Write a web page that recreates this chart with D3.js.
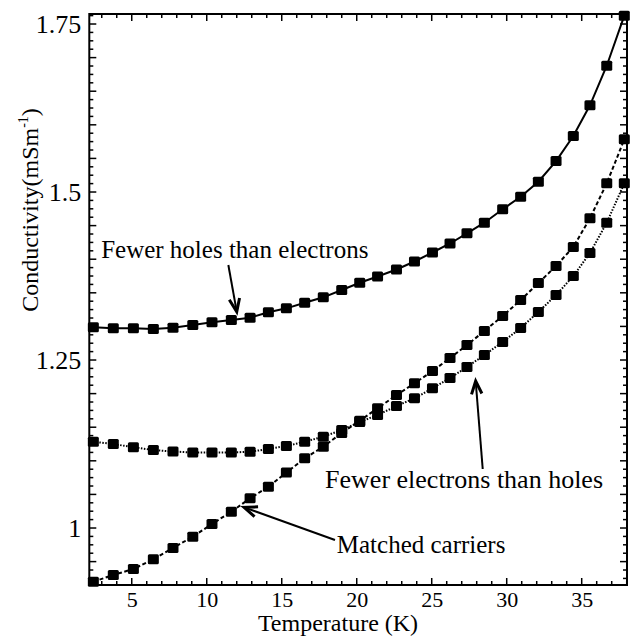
<!DOCTYPE html>
<html>
<head>
<meta charset="utf-8">
<script src="https://cdn.jsdelivr.net/npm/d3@7"></script>
<style>
html,body{margin:0;padding:0;background:#fff;}
svg{display:block;}
text{font-family:"Liberation Serif","Times New Roman",serif;fill:#000;}
</style>
</head>
<body>
<svg id="chart" width="640" height="638"></svg>
<script>
// ---- data ----
const temperature = [2.44, 3.77, 5.11, 6.44, 7.75, 9.07, 10.35, 11.64, 12.89, 14.11, 15.31, 16.53, 17.77, 19.0, 20.2, 21.39, 22.65, 23.85, 25.05, 26.22, 27.35, 28.51, 29.73, 30.93, 32.11, 33.29, 34.44, 35.55, 36.67, 37.84];
const fewerHoles = [1.2987, 1.2972, 1.2972, 1.2961, 1.2981, 1.3021, 1.3061, 1.3095, 1.3129, 1.3210, 1.3269, 1.3353, 1.3433, 1.3542, 1.3650, 1.3743, 1.3847, 1.3966, 1.4100, 1.4234, 1.4385, 1.4543, 1.4743, 1.4930, 1.5153, 1.5461, 1.5833, 1.6290, 1.6879, 1.7624];
const fewerElectrons = [1.1284, 1.1250, 1.1201, 1.1161, 1.1138, 1.1124, 1.1124, 1.1124, 1.1135, 1.1176, 1.1220, 1.1284, 1.1359, 1.1458, 1.1577, 1.1682, 1.1815, 1.1930, 1.2079, 1.2232, 1.2396, 1.2574, 1.2768, 1.2976, 1.3214, 1.3467, 1.3750, 1.4092, 1.4543, 1.5129];
const matchedCarriers = [0.9201, 0.9301, 0.9390, 0.9534, 0.9702, 0.9871, 1.0060, 1.0243, 1.0442, 1.0615, 1.0826, 1.1037, 1.1210, 1.1414, 1.1597, 1.1781, 1.1979, 1.2153, 1.2336, 1.2530, 1.2723, 1.2932, 1.3155, 1.3393, 1.3646, 1.3899, 1.4182, 1.4609, 1.5129, 1.5784];
const xTickValues = [5, 10, 15, 20, 25, 30, 35];
const yTickValues = [1, 1.25, 1.5, 1.75];
const yTickLabels = ["1", "1.25", "1.5", "1.75"];
const annotationTexts = ["Fewer holes than electrons", "Fewer electrons than holes", "Matched carriers"];
const xTitle = "Temperature (K)";

// ---- layout ----
const W = 640, H = 638;
const L = 89.3, R = 627, T = 14, B = 585;
const svg = d3.select("#chart");

const x = d3.scaleLinear().domain([2.17, 38.02]).range([L, R]);
const y = d3.scaleLinear().domain([0.9152, 1.7649]).range([B, T]);

// ---- ticks (inward) on all four sides ----
const g = svg.append("g");
const xMinor = d3.range(3, 39, 1);
const yMinor = d3.range(0, 72).map(i => +(0.925 + i * 0.0125).toFixed(4)).filter(v => v <= 1.765);
function yLen(v) { const r = Math.round(v * 10000) % 500; return r === 0 ? 7 : 4; }
function xLen(v) { return v % 5 === 0 ? 7 : 4; }

xMinor.forEach(v => {
  g.append("line").attr("x1", x(v)).attr("x2", x(v)).attr("y1", B).attr("y2", B - xLen(v)).attr("stroke", "#000").attr("stroke-width", 1.5);
  g.append("line").attr("x1", x(v)).attr("x2", x(v)).attr("y1", T).attr("y2", T + xLen(v)).attr("stroke", "#000").attr("stroke-width", 1.5);
});
yMinor.forEach(v => {
  g.append("line").attr("x1", L).attr("x2", L + yLen(v)).attr("y1", y(v)).attr("y2", y(v)).attr("stroke", "#000").attr("stroke-width", 1.5);
  g.append("line").attr("x1", R).attr("x2", R - yLen(v)).attr("y1", y(v)).attr("y2", y(v)).attr("stroke", "#000").attr("stroke-width", 1.5);
});

// frame
svg.append("rect").attr("x", L).attr("y", T).attr("width", R - L).attr("height", B - T)
  .attr("fill", "none").attr("stroke", "#000").attr("stroke-width", 2);

// tick labels via d3 axes (tick lines hidden)
const xAxis = d3.axisBottom(x).tickValues(xTickValues).tickSize(0).tickPadding(6).tickFormat(d3.format("d"));
const xg = svg.append("g").attr("transform", `translate(0,${B})`).call(xAxis);
xg.select(".domain").remove();
xg.selectAll("text").attr("font-size", 22).attr("font-family", "Liberation Serif").attr("fill", "#000");

const yAxis = d3.axisLeft(y).tickValues(yTickValues).tickSize(0).tickPadding(8).tickFormat((d, i) => yTickLabels[i]);
const yg = svg.append("g").attr("transform", `translate(${L},0)`).call(yAxis);
yg.select(".domain").remove();
yg.selectAll("text").attr("font-size", 26).attr("font-family", "Liberation Serif").attr("fill", "#000");

// axis titles
svg.append("text").attr("x", 338).attr("y", 631).attr("text-anchor", "middle")
  .attr("font-size", 24).text(xTitle);
const yt = svg.append("text").attr("transform", "translate(38,210) rotate(-90)").attr("text-anchor", "middle")
  .attr("font-size", 24);
yt.append("tspan").text("Conductivity(mSm");
yt.append("tspan").attr("font-size", 14).attr("dy", -10).text("-1");
yt.append("tspan").attr("dy", 10).text(")");

// ---- series ----
const seriesList = [
  {values: fewerHoles, dash: null},
  {values: fewerElectrons, dash: "1.5,1.5"},
  {values: matchedCarriers, dash: "4,2.5"}
];
const line = d3.line().x(d => x(d[0])).y(d => y(d[1]));
seriesList.forEach(s => {
  const pts = temperature.map((t, i) => [t, s.values[i]]);
  svg.append("path").datum(pts).attr("d", line).attr("fill", "none").attr("stroke", "#000")
    .attr("stroke-width", 2).attr("stroke-dasharray", s.dash);
  svg.append("g").selectAll("rect").data(pts).join("rect")
    .attr("x", d => x(d[0]) - 5.5).attr("y", d => y(d[1]) - 5)
    .attr("width", 11).attr("height", 10).attr("rx", 1.5).attr("fill", "#000");
});

// ---- annotations ----
function arrow(t0, v0, t1, v1) {
  const x0 = x(t0), y0 = y(v0), x1 = x(t1), y1 = y(v1);
  svg.append("line").attr("x1", x0).attr("y1", y0).attr("x2", x1).attr("y2", y1)
    .attr("stroke", "#000").attr("stroke-width", 2);
  const a = Math.atan2(y1 - y0, x1 - x0), len = 14, w = 0.38;
  const p1 = [x1 - len * Math.cos(a - w), y1 - len * Math.sin(a - w)];
  const p2 = [x1 - len * Math.cos(a + w), y1 - len * Math.sin(a + w)];
  svg.append("path").attr("d", `M${p1[0]},${p1[1]}L${x1},${y1}L${p2[0]},${p2[1]}`)
    .attr("fill", "none").attr("stroke", "#000").attr("stroke-width", 3).attr("stroke-linejoin", "miter");
}
svg.append("text").attr("x", x(2.96)).attr("y", y(1.4018)).attr("font-size", 25).text(annotationTexts[0]);
arrow(11.44, 1.3914, 12.0, 1.3219);
svg.append("text").attr("x", x(17.89)).attr("y", y(1.0595)).attr("font-size", 26).text(annotationTexts[1]);
arrow(28.4, 1.0878, 27.93, 1.2188);
svg.append("text").attr("x", x(18.67)).attr("y", y(0.9628)).attr("font-size", 25).text(annotationTexts[2]);
arrow(18.55, 0.9821, 12.49, 1.0308);
</script>
</body>
</html>
